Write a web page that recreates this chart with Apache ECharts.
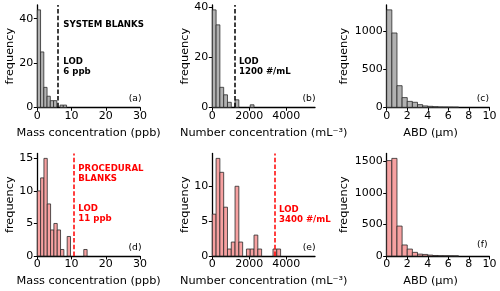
<!DOCTYPE html>
<html>
<head>
<meta charset="utf-8">
<script src="https://cdn.jsdelivr.net/npm/echarts@6/dist/echarts.min.js"></script>
<style>html,body{margin:0;padding:0;background:#fff}#c{width:500px;height:291px}</style>
</head>
<body>
<div id="c"></div>
<script>
// ---- data ----
// (a) system blanks, mass concentration (ppb)
const massSysEdges = [0, 0.95, 1.9, 2.85, 3.8, 4.75, 5.7, 6.65, 7.6, 8.55];
const massSysCounts = [44, 25, 9, 5, 3, 3, 0, 1, 1];
const massSysLOD = 6;
// (b) system blanks, number concentration
const numEdges = [0, 205, 410, 615, 820, 1025, 1230, 1435, 1640, 1845, 2050, 2255, 2460, 2665, 2870, 3075, 3280, 3485, 3690];
const numSysCounts = [39, 33, 8, 5, 2, 0, 3, 0, 0, 0, 1];
const numSysLOD = 1200;
// (c) system blanks, ABD (um)
const abdEdges = [0, 0.5, 1, 1.5, 2, 2.5, 3, 3.5, 4, 4.5, 5, 5.5, 6, 6.5, 7];
const abdSysCounts = [1285, 980, 285, 128, 78, 66, 35, 18, 13, 8, 4, 3, 2, 1];
// (d) procedural blanks, mass concentration
const massProcEdges = [0, 0.97, 1.94, 2.91, 3.88, 4.85, 5.82, 6.79, 7.76, 8.73, 9.7, 10.67, 11.64, 12.61, 13.58, 14.55];
const massProcCounts = [10, 12, 15, 8, 4, 5, 4, 1, 0, 3, 0, 0, 0, 0, 1];
const massProcLOD = 10.6;
// (e) procedural blanks, number concentration
const numProcCounts = [6, 14, 12, 7, 1, 2, 10, 2, 0, 1, 1, 3, 1, 0, 0, 0, 1, 1];
const numProcLOD = 3400;
// (f) procedural blanks, ABD
const abdProcCounts = [1515, 1550, 475, 175, 110, 58, 30, 25, 14, 8, 4, 3, 2, 1];

const massTicks = [0, 10, 20, 30];
const numTicks = [0, 2000, 4000];
const abdTicks = [0, 2, 4, 6, 8, 10];
const ySysMassTicks = [0, 20, 40];
const ySysNumTicks = [0, 20, 40];
const ySysAbdTicks = [0, 500, 1000];
const yProcMassTicks = [0, 5, 10, 15];
const yProcNumTicks = [0, 5, 10];
const yProcAbdTicks = [0, 500, 1000, 1500];

const labels = {
  mass: 'Mass concentration (ppb)',
  num: 'Number concentration (mL\u207B\u00B3)',
  abd: 'ABD (\u03BCm)',
  freq: 'frequency'
};

// ---- styling ----
const FONT = 'DejaVu Sans';
const GRAY = '#b1b1b1';
const PINK = '#f7a1a1';
const EDGE = '#2a2a2a';
const RED = '#ff0000';
const plain = v => String(v);

const grids = [
  {left: 37.3, top: 5, width: 102.7, height: 102.3},
  {left: 212.3, top: 5, width: 102.7, height: 102.3},
  {left: 386.7, top: 5, width: 102.7, height: 102.3},
  {left: 37.3, top: 153.5, width: 102.7, height: 102.5},
  {left: 212.3, top: 153.5, width: 102.7, height: 102.5},
  {left: 386.7, top: 153.5, width: 102.7, height: 102.5}
];

function xAxis(gi, max, ticks, name, pad) {
  return {
    type: 'value', gridIndex: gi, min: 0, max: max,
    name: name, nameLocation: 'middle', nameGap: 20,
    nameTextStyle: {fontFamily: FONT, fontSize: 11.3, color: '#000', padding: pad || 0},
    axisLine: {show: true, onZero: false, lineStyle: {color: '#000', width: 1.3}},
    axisTick: {show: true, length: 3.5, customValues: ticks, lineStyle: {color: '#000', width: 1}},
    axisLabel: {customValues: ticks, formatter: plain, fontFamily: FONT, fontSize: 11, color: '#000', margin: 3},
    splitLine: {show: false}
  };
}
function yAxis(gi, counts, ticks, gap) {
  return {
    type: 'value', gridIndex: gi, min: 0, max: Math.max(...counts) * 1.05,
    name: labels.freq, nameLocation: 'middle', nameGap: gap, nameRotate: 90,
    nameTextStyle: {fontFamily: FONT, fontSize: 11.3, color: '#000'},
    axisLine: {show: true, onZero: false, lineStyle: {color: '#000', width: 1.3}},
    axisTick: {show: true, length: 3.5, customValues: ticks, lineStyle: {color: '#000', width: 1}},
    axisLabel: {customValues: ticks, formatter: plain, fontFamily: FONT, fontSize: 11, color: '#000', margin: 4},
    splitLine: {show: false}
  };
}

function hist(gi, edges, counts, fill, lod, lodColor) {
  const data = counts.map((c, i) => [edges[i], edges[i + 1], c]);
  const s = {
    type: 'custom', xAxisIndex: gi, yAxisIndex: gi, silent: true,
    data: data,
    renderItem: function (params, api) {
      const c = api.value(2);
      if (!c) return null;
      const p0 = api.coord([api.value(0), 0]);
      const p1 = api.coord([api.value(1), c]);
      return {
        type: 'rect',
        shape: {x: p0[0], y: p1[1], width: p1[0] - p0[0], height: p0[1] - p1[1]},
        style: {fill: fill, stroke: EDGE, lineWidth: 0.8}
      };
    }
  };
  if (lod != null) {
    s.markLine = {
      silent: true, symbol: 'none', animation: false,
      label: {show: false},
      lineStyle: {color: lodColor, type: [4.5, 2.2], width: 1.5},
      data: [{xAxis: lod}]
    };
  }
  return s;
}

function txt(x, y, text, opts) {
  return {
    type: 'text', x: x, y: y, silent: true,
    style: Object.assign({
      text: text, fontFamily: FONT, fontSize: 8.6, fontWeight: 'bold',
      fill: '#000', verticalAlign: 'middle', align: 'left', lineHeight: 10
    }, opts || {})
  };
}
function panelLabel(x, y, text) {
  return txt(x, y, text, {fontWeight: 'normal', fontSize: 9.2, align: 'right'});
}

const option = {
  animation: false,
  backgroundColor: '#fff',
  grid: grids.map(g => Object.assign({containLabel: false}, g)),
  xAxis: [
    xAxis(0, 30, massTicks, labels.mass),
    xAxis(1, 5550, numTicks, labels.num),
    xAxis(2, 10, abdTicks, labels.abd, [0, 15, 0, 0]),
    xAxis(3, 30, massTicks, labels.mass),
    xAxis(4, 5550, numTicks, labels.num),
    xAxis(5, 10, abdTicks, labels.abd, [0, 15, 0, 0])
  ],
  yAxis: [
    yAxis(0, massSysCounts, ySysMassTicks, 21),
    yAxis(1, numSysCounts, ySysNumTicks, 21),
    yAxis(2, abdSysCounts, ySysAbdTicks, 37),
    yAxis(3, massProcCounts, yProcMassTicks, 21),
    yAxis(4, numProcCounts, yProcNumTicks, 21),
    yAxis(5, abdProcCounts, yProcAbdTicks, 37)
  ],
  series: [
    hist(0, massSysEdges, massSysCounts, GRAY, massSysLOD, '#000'),
    hist(1, numEdges, numSysCounts, GRAY, numSysLOD, '#000'),
    hist(2, abdEdges, abdSysCounts, GRAY),
    hist(3, massProcEdges, massProcCounts, PINK, massProcLOD, RED),
    hist(4, numEdges, numProcCounts, PINK, numProcLOD, RED),
    hist(5, abdEdges, abdProcCounts, PINK)
  ],
  graphic: [
    txt(63.3, 25, 'SYSTEM BLANKS'),
    txt(63.3, 66.5, 'LOD\n6 ppb'),
    txt(239, 66.8, 'LOD\n1200 #/mL'),
    txt(78.3, 173.7, 'PROCEDURAL\nBLANKS', {fill: RED}),
    txt(78.3, 214.2, 'LOD\n11 ppb', {fill: RED}),
    txt(279, 214.5, 'LOD\n3400 #/mL', {fill: RED}),
    panelLabel(141.5, 99, '(a)'),
    panelLabel(315.5, 99, '(b)'),
    panelLabel(489, 99, '(c)'),
    panelLabel(141.5, 248, '(d)'),
    panelLabel(315.5, 248, '(e)'),
    panelLabel(487.5, 245, '(f)')
  ]
};

const chart = echarts.init(document.getElementById('c'), null, {renderer: 'canvas'});
chart.setOption(option);
</script>
</body>
</html>
